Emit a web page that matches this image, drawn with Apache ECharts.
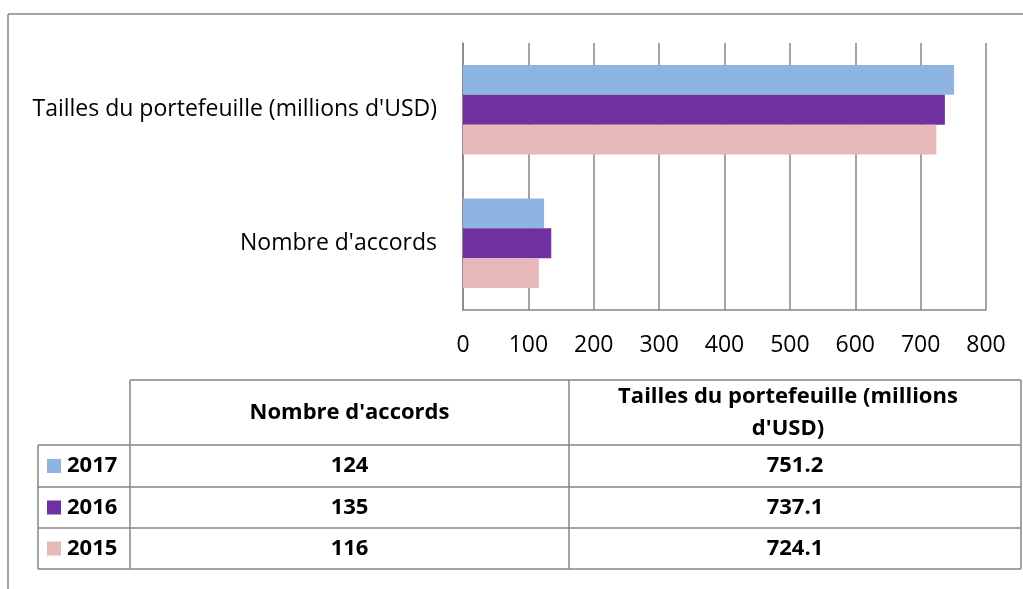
<!DOCTYPE html>
<html>
<head>
<meta charset="utf-8">
<script src="https://cdn.jsdelivr.net/npm/echarts@6/dist/echarts.min.js"></script>
<style>
  html, body { margin: 0; padding: 0; background: #fff; }
  #chart { width: 1023px; height: 589px; }
</style>
</head>
<body>
<div id="chart"></div>
<script>
// data
const categories = ["Nombre d'accords", "Tailles du portefeuille (millions d'USD)"];
const years = ['2017', '2016', '2015'];
const values2015 = [116, 724.1];
const values2016 = [135, 737.1];
const values2017 = [124, 751.2];
const tableHeaders = ["Nombre d'accords", "Tailles du portefeuille (millions\nd'USD)"];
const tableRows = ['2017', '2016', '2015'];

const colors = { '2015': '#E6B9B8', '2016': '#7030A0', '2017': '#8EB4E3' };
const seriesValues = { '2015': values2015, '2016': values2016, '2017': values2017 };
const fmt = v => Number.isInteger(v) ? String(v) : v.toFixed(1);

const font = '"Open Sans", "Noto Sans", sans-serif';
const gridColor = '#868686';

const chart = echarts.init(document.getElementById('chart'));

// table layout
const colX = [38, 130, 569, 1021];
const rowY = [380, 445, 487, 528, 569];
const graphics = [];
const line = (x1, y1, x2, y2) => graphics.push({
  type: 'line', shape: { x1, y1, x2, y2 },
  style: { stroke: gridColor, lineWidth: 1.5 }
});
// outer frame
line(8, 14, 1023, 14);
line(8, 14, 8, 589);
// table lines
line(colX[1], rowY[0], colX[3], rowY[0]);
for (let i = 1; i < rowY.length; i++) line(colX[0], rowY[i], colX[3], rowY[i]);
line(colX[0], rowY[1], colX[0], rowY[4]);
for (let i = 1; i < colX.length; i++) line(colX[i], rowY[0], colX[i], rowY[4]);

const txt = (text, x, y, align) => graphics.push({
  type: 'text', x, y,
  style: { text, fill: '#000', font: 'bold 22px ' + font, align: align || 'center', verticalAlign: 'middle', lineHeight: 32 }
});
// headers
tableHeaders.forEach((h, i) => txt(h, (colX[i + 1] + colX[i + 2]) / 2 - (i ? 7 : 0), (rowY[0] + rowY[1]) / 2));
// rows
tableRows.forEach((yr, r) => {
  const cy = (rowY[r + 1] + rowY[r + 2]) / 2;
  graphics.push({
    type: 'rect', shape: { x: 47, y: cy - 7, width: 14, height: 14 },
    style: { fill: colors[yr] }
  });
  txt(yr, 67, cy, 'left');
  seriesValues[yr].forEach((v, c) => txt(fmt(v), (colX[c + 1] + colX[c + 2]) / 2, cy));
});

chart.setOption({
  animation: false,
  grid: { left: 463, right: 37, top: 43, bottom: 279, containLabel: false },
  xAxis: {
    type: 'value', min: 0, max: 800, interval: 100,
    axisLine: { show: true, lineStyle: { color: gridColor, width: 1.5 } },
    axisTick: { show: false },
    splitLine: { show: true, lineStyle: { color: gridColor, width: 1.5 } },
    axisLabel: { color: '#000', fontSize: 23, fontFamily: font, margin: 24 }
  },
  yAxis: {
    type: 'category', data: categories,
    axisLine: { show: true, lineStyle: { color: gridColor, width: 1.5 } },
    axisTick: { show: false },
    axisLabel: { color: '#000', fontSize: 23, fontFamily: font, margin: 26 }
  },
  series: years.map(yr => ({
    name: yr, type: 'bar', data: seriesValues[yr],
    barGap: '0%', barCategoryGap: '33%',
    itemStyle: { color: colors[yr] }
  })),
  graphic: graphics
});
</script>
</body>
</html>
